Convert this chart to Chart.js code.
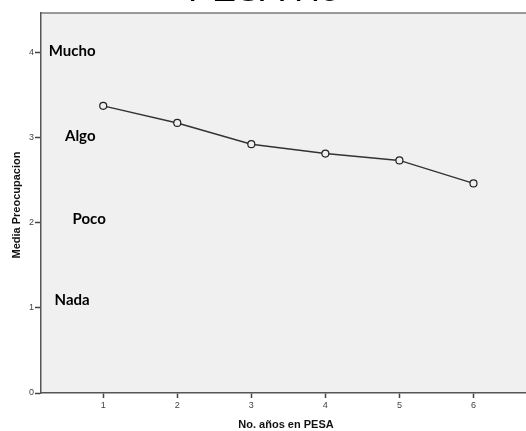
<!DOCTYPE html>
<html>
<head>
<meta charset="utf-8">
<script src="https://cdn.jsdelivr.net/npm/chart.js"></script>
<style>
  html, body { margin: 0; padding: 0; background: #fff; overflow: hidden; }
  canvas { display: block; }
</style>
</head>
<body>
<canvas id="c" width="532" height="431"></canvas>
<script>
// values
var yearsInPesa = [1, 2, 3, 4, 5, 6];
var meanConcern = [3.37, 3.17, 2.92, 2.81, 2.73, 2.46];
var levelNames = ['Mucho', 'Algo', 'Poco', 'Nada'];
var levelY = [4.01, 3.02, 2.04, 1.09];
var levelX = [0.58, 0.69, 0.81, 0.58];
var titleText = 'PESA Ho';
var xTitle = 'No. años en PESA';
var yTitle = 'Media Preocupacion';

var points = yearsInPesa.map(function(x, i){ return { x: x, y: meanConcern[i] }; });

var frame = {
  id: 'frame',
  beforeDraw: function(chart){
    var a = chart.chartArea, ctx = chart.ctx;
    ctx.save();
    ctx.fillStyle = '#f0f0f0';
    ctx.fillRect(a.left, a.top, chart.width - a.left, a.bottom - a.top);
    ctx.strokeStyle = '#7a7a7a';
    ctx.lineWidth = 1.5;
    ctx.beginPath();
    ctx.moveTo(a.left, a.top);
    ctx.lineTo(chart.width, a.top);
    ctx.stroke();
    ctx.restore();
  },
  afterDraw: function(chart){
    var ctx = chart.ctx, xs = chart.scales.x, ys = chart.scales.y;
    ctx.save();
    // level labels
    ctx.fillStyle = '#000';
    ctx.font = 'bold 15px Lato';
    ctx.textAlign = 'center';
    ctx.textBaseline = 'middle';
    levelNames.forEach(function(t, i){
      ctx.fillText(t, xs.getPixelForValue(levelX[i]), ys.getPixelForValue(levelY[i]));
    });
    // axis titles
    ctx.font = 'bold 11px "Liberation Sans", Arial';
    ctx.fillStyle = '#111';
    ctx.fillText(xTitle, 286, 425);
    ctx.translate(17, 205);
    ctx.rotate(-Math.PI / 2);
    ctx.fillText(yTitle, 0, 0);
    ctx.restore();
    // cut-off title
    ctx.save();
    ctx.font = '36px "Liberation Sans", Arial';
    ctx.fillStyle = '#000';
    ctx.textAlign = 'center';
    ctx.textBaseline = 'alphabetic';
    ctx.fillText(titleText, 264, 0.5);
    ctx.restore();
  }
};

new Chart(document.getElementById('c').getContext('2d'), {
  type: 'line',
  data: {
    datasets: [{
      data: points,
      borderColor: '#333',
      borderWidth: 1.5,
      tension: 0,
      pointRadius: 3.5,
      pointBorderWidth: 1.2,
      pointBorderColor: '#222',
      pointBackgroundColor: '#f0f0f0'
    }]
  },
  options: {
    responsive: false,
    animation: false,
    layout: { padding: { top: 13, right: 0, left: 0, bottom: 0 } },
    plugins: { legend: { display: false }, tooltip: { enabled: false }, title: { display: false } },
    scales: {
      x: {
        type: 'linear', min: 0.16, max: 6.72,
        afterFit: function(s){ s.height = 38; },
        ticks: { stepSize: 1, includeBounds: false, color: '#444', font: { size: 9, family: 'Liberation Sans' }, padding: 2, maxRotation: 0 },
        grid: { drawOnChartArea: false, tickLength: 5, color: '#444', tickWidth: 1.5 },
        border: { color: '#555', width: 1.5 }
      },
      y: {
        min: 0, max: 4.46,
        afterFit: function(s){ s.width = 41; },
        ticks: { stepSize: 1, includeBounds: false, color: '#444', font: { size: 9, family: 'Liberation Sans' }, padding: 1 },
        grid: { drawOnChartArea: false, tickLength: 6, color: '#444', tickWidth: 1.5 },
        border: { color: '#555', width: 1.5 }
      }
    }
  },
  plugins: [frame]
});
</script>
</body>
</html>
